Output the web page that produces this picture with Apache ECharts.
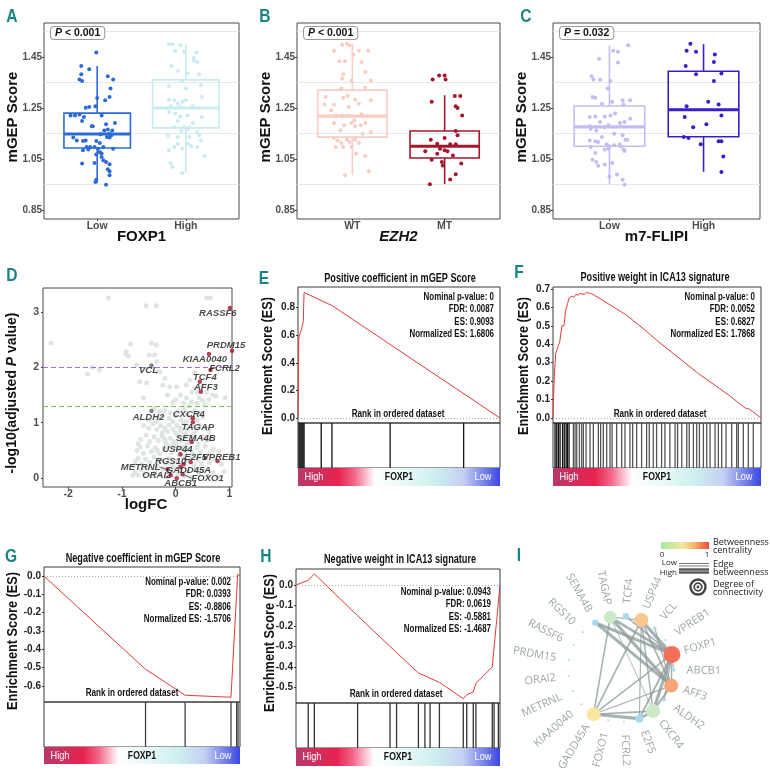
<!DOCTYPE html>
<html>
<head>
<meta charset="utf-8">
<script src="https://cdn.jsdelivr.net/npm/echarts@6/dist/echarts.min.js"></script>
<style>
  html, body { margin: 0; background: #fff; }
  #chart { width: 770px; height: 772px; }
</style>
</head>
<body>
<div id="chart"></div>
<script>
// ---------- A/B/C : mGEP score boxplots ----------
const mgepTicks = [0.85, 1.05, 1.25, 1.45];
const mgepGridLines = [0.95, 1.15, 1.35, 1.55];

const groupsA = ['Low', 'High'];
const groupsB = ['WT', 'MT'];
const groupsC = ['Low', 'High'];

// [min, Q1, median, Q3, max]
const boxStatsA = [[0.956, 1.093, 1.148, 1.23, 1.415], [0.995, 1.172, 1.25, 1.36, 1.50]];
const boxStatsB = [[0.987, 1.136, 1.218, 1.32, 1.50], [0.952, 1.054, 1.10, 1.16, 1.30]];
const boxStatsC = [[0.952, 1.10, 1.176, 1.258, 1.494], [1.0, 1.137, 1.243, 1.394, 1.50]];

// [jitter offset, score]
const jitterALow = [[-0.01,1.467],[-0.18,1.415],[-0.09,1.402],[-0.18,1.382],[-0.20,1.362],[-0.17,1.356],[0.12,1.374],[0.18,1.362],[0.15,1.326],[0.00,1.289],[0.09,1.280],[0.14,1.293],[-0.13,1.251],[-0.09,1.254],[-0.02,1.257],[-0.30,1.221],[-0.25,1.221],[-0.20,1.224],[-0.15,1.215],[-0.17,1.199],[0.05,1.221],[-0.06,1.178],[-0.05,1.178],[0.10,1.186],[0.12,1.166],[0.17,1.162],[0.20,1.191],[0.14,1.149],[0.08,1.162],[0.04,1.147],[-0.27,1.134],[-0.23,1.123],[-0.16,1.121],[-0.13,1.123],[-0.01,1.121],[0.03,1.113],[0.11,1.136],[0.14,1.134],[0.16,1.143],[-0.12,1.097],[-0.08,1.097],[-0.03,1.097],[0.01,1.090],[0.07,1.097],[0.18,1.090],[-0.16,1.084],[-0.10,1.087],[0.03,1.077],[0.05,1.072],[-0.01,1.068],[0.05,1.058],[0.07,1.045],[0.10,1.038],[0.14,1.030],[-0.17,1.032],[-0.03,1.034],[0.12,1.010],[0.14,1.002],[0.14,0.986],[-0.01,0.969],[-0.02,0.960],[0.10,0.949]];
const jitterAHigh = [[-0.19,1.50],[-0.15,1.50],[-0.06,1.496],[-0.02,1.47],[-0.12,1.474],[0.12,1.467],[0.09,1.447],[0.09,1.437],[0.13,1.43],[-0.16,1.415],[-0.09,1.395],[0.02,1.385],[0.15,1.382],[-0.04,1.358],[-0.19,1.335],[0.00,1.326],[0.17,1.339],[0.18,1.293],[-0.19,1.283],[-0.13,1.28],[-0.09,1.267],[-0.04,1.274],[0.00,1.28],[-0.17,1.257],[-0.06,1.254],[0.08,1.257],[-0.19,1.234],[-0.12,1.228],[-0.06,1.217],[0.02,1.221],[0.18,1.215],[-0.09,1.199],[0.08,1.191],[-0.13,1.175],[-0.02,1.175],[0.02,1.169],[-0.05,1.16],[0.04,1.175],[0.13,1.156],[-0.20,1.143],[-0.09,1.136],[0.04,1.136],[0.15,1.143],[0.17,1.123],[-0.09,1.11],[0.02,1.11],[0.06,1.10],[0.13,1.097],[-0.13,1.097],[-0.04,1.09],[-0.19,1.084],[0.21,1.062],[-0.17,1.034],[-0.15,1.019],[-0.04,0.995]];
const jitterBWT = [[-0.11,1.498],[-0.06,1.502],[-0.03,1.496],[-0.20,1.474],[0.07,1.474],[0.17,1.474],[0.01,1.46],[-0.08,1.433],[-0.14,1.433],[0.10,1.43],[0.14,1.391],[-0.10,1.382],[-0.11,1.365],[-0.01,1.358],[0.20,1.358],[-0.12,1.326],[0.14,1.33],[-0.29,1.293],[-0.10,1.29],[-0.05,1.297],[0.03,1.283],[0.07,1.267],[0.20,1.28],[-0.20,1.263],[-0.04,1.254],[-0.30,1.264],[-0.23,1.241],[-0.18,1.221],[-0.11,1.221],[-0.04,1.221],[0.10,1.225],[0.11,1.221],[0.02,1.202],[-0.20,1.191],[-0.01,1.191],[0.14,1.191],[-0.09,1.182],[0.03,1.178],[0.09,1.182],[-0.13,1.162],[0.20,1.156],[0.11,1.149],[-0.20,1.132],[-0.16,1.123],[-0.06,1.126],[-0.12,1.113],[-0.03,1.117],[0.03,1.126],[0.07,1.113],[-0.10,1.097],[-0.01,1.097],[-0.18,1.097],[0.04,1.071],[0.14,1.062],[0.18,1.002],[-0.08,0.986]];
const jitterBMT = [[-0.13,1.362],[-0.06,1.377],[0.00,1.377],[0.01,1.362],[0.11,1.297],[0.17,1.297],[-0.14,1.274],[0.12,1.257],[0.14,1.25],[0.19,1.221],[0.12,1.16],[0.14,1.143],[-0.15,1.126],[0.00,1.132],[-0.08,1.11],[0.06,1.108],[0.12,1.108],[-0.21,1.08],[-0.05,1.09],[0.00,1.084],[0.03,1.08],[-0.08,1.071],[-0.14,1.047],[-0.03,1.038],[-0.02,1.025],[0.09,1.064],[0.18,1.032],[0.12,0.99],[0.06,0.97],[-0.16,0.951]];
const jitterCLow = [[0.20,1.496],[0.04,1.474],[0.09,1.47],[-0.11,1.443],[0.09,1.428],[-0.19,1.374],[-0.17,1.362],[-0.10,1.361],[0.01,1.356],[-0.02,1.326],[-0.18,1.293],[-0.15,1.29],[0.14,1.28],[0.15,1.264],[0.22,1.28],[-0.08,1.267],[0.03,1.274],[-0.15,1.217],[-0.05,1.217],[0.01,1.221],[0.06,1.228],[-0.21,1.215],[0.22,1.208],[0.11,1.191],[0.16,1.195],[-0.10,1.195],[-0.05,1.175],[-0.01,1.182],[-0.21,1.178],[-0.20,1.169],[-0.14,1.162],[0.05,1.149],[0.14,1.143],[0.17,1.126],[0.19,1.126],[-0.21,1.123],[-0.15,1.12],[-0.12,1.117],[-0.08,1.136],[-0.03,1.108],[0.00,1.10],[0.05,1.104],[0.11,1.108],[0.12,1.10],[-0.20,1.097],[-0.05,1.087],[-0.01,1.09],[0.15,1.087],[0.16,1.081],[-0.15,1.074],[-0.18,1.047],[-0.14,1.038],[-0.12,1.024],[-0.05,1.029],[0.03,1.034],[0.08,0.989],[0.14,0.969],[0.16,0.949],[0.00,0.982]];
const jitterCHigh = [[-0.14,1.502],[-0.18,1.474],[-0.08,1.47],[0.12,1.46],[0.11,1.43],[-0.19,1.415],[-0.08,1.382],[0.19,1.385],[0.11,1.356],[-0.18,1.257],[0.05,1.274],[0.16,1.264],[0.19,1.221],[-0.20,1.215],[-0.11,1.175],[0.03,1.186],[-0.21,1.136],[-0.16,1.132],[-0.03,1.108],[0.16,1.12],[0.19,1.12],[0.21,1.06],[0.19,0.999]];

// ---------- D : volcano ----------
const volcanoTicksX = [-2, -1, 0, 1];
const volcanoTicksY = [0, 1, 2, 3];
const volcanoBackground = [[-1.25,3.25],[0.58,3.25],[0.65,3.25],[-0.55,3.11],[-0.36,3.11],[-2.32,2.44],[-0.45,2.44],[-0.36,2.40],[-0.84,2.42],[-0.92,2.28],[-0.93,2.24],[-0.88,2.20],[-0.49,2.22],[-0.39,2.22],[-1.64,1.88],[-1.55,2.0],[-0.73,2.04],[-0.35,2.1],[-0.35,1.92],[-0.29,1.92],[-0.67,1.74],[-0.54,1.72],[-0.24,1.68],[-0.11,1.65],[0.02,1.65],[0.2,1.68],[0.26,1.77],[0.3,1.55],[0.41,1.55],[0.09,1.5],[0.2,1.45],[0.58,1.55],[0.69,1.5],[0.92,1.45],[-0.15,1.5],[0.0,1.42],[0.5,1.4],[0.3,1.38],[0.4,1.35],[0.62,1.42],[0.75,1.48],[0.15,1.35],[-0.05,1.36],[-1.42,1.95],[-0.6,1.45],[-0.2,1.8],[0.35,1.9],[0.36,1.62],[0.52,1.66],[0.44,1.45],[0.55,1.32],[0.25,1.3],
  [-0.4,1.25],[-0.3,1.2],[-0.2,1.22],[-0.1,1.18],[0.05,1.2],[0.15,1.25],[0.22,1.15],[0.35,1.22],[0.45,1.18],[-0.25,1.1],[-0.12,1.08],[0.0,1.12],[0.1,1.05],[0.2,1.02],[0.4,1.05],[0.5,1.1],[-0.35,1.02],[-0.5,1.05],[-0.05,1.02],[0.28,1.1],
  [-0.6,0.95],[-0.5,0.9],[-0.42,0.98],[-0.35,0.88],[-0.28,0.95],[-0.2,0.9],[-0.12,0.96],[-0.05,0.88],[0.02,0.95],[0.08,0.9],[0.15,0.98],[0.22,0.88],[0.3,0.93],[0.38,0.86],[0.45,0.95],[0.55,0.9],[0.62,0.85],[-0.25,0.82],[0.0,0.82],[0.18,0.8],[-0.15,0.84],[0.1,0.84],[0.34,0.8],
  [-0.65,0.7],[-0.55,0.78],[-0.48,0.66],[-0.4,0.74],[-0.32,0.68],[-0.25,0.76],[-0.18,0.64],[-0.1,0.72],[-0.03,0.66],[0.04,0.76],[0.1,0.68],[0.16,0.72],[0.24,0.64],[0.3,0.76],[0.36,0.7],[0.42,0.62],[0.5,0.74],[0.58,0.68],[0.66,0.72],[-0.7,0.62],[-0.2,0.7],[0.2,0.6],[0.02,0.62],
  [-0.72,0.5],[-0.66,0.56],[-0.6,0.45],[-0.52,0.58],[-0.45,0.48],[-0.38,0.55],[-0.3,0.44],[-0.22,0.52],[-0.15,0.58],[-0.08,0.46],[0.0,0.54],[0.06,0.42],[0.12,0.56],[0.18,0.48],[0.25,0.52],[0.32,0.45],[0.4,0.55],[0.47,0.48],[0.55,0.58],[0.62,0.44],[0.7,0.52],[0.8,0.48],[-0.05,0.6],[-0.34,0.5],[0.08,0.5],
  [-0.75,0.3],[-0.7,0.36],[-0.64,0.25],[-0.56,0.34],[-0.48,0.28],[-0.4,0.38],[-0.33,0.22],[-0.26,0.32],[-0.19,0.26],[-0.12,0.36],[-0.05,0.24],[0.02,0.32],[0.08,0.22],[0.14,0.38],[0.2,0.3],[0.27,0.36],[0.34,0.24],[0.41,0.34],[0.48,0.26],[0.56,0.36],[0.63,0.28],[0.72,0.34],[0.85,0.25],[-0.78,0.22],[-0.3,0.3],[0.05,0.28],
  [-0.76,0.1],[-0.7,0.05],[-0.64,0.15],[-0.58,0.08],[-0.52,0.18],[-0.45,0.04],[-0.38,0.12],[-0.3,0.06],[-0.24,0.16],[-0.17,0.02],[-0.1,0.12],[-0.03,0.18],[0.04,0.08],[0.1,0.14],[0.17,0.04],[0.23,0.12],[0.3,0.02],[0.37,0.16],[0.44,0.08],[0.52,0.14],[0.6,0.04],[0.7,0.1],[0.8,0.02],[0.9,0.12],[-0.8,0.05]];
const volcanoGenes = ['RASSF6','PRDM15','KIAA0040','FCRL2','VCL','TCF4','AFF3','ALDH2','CXCR4','TAGAP','SEMA4B','USP44','E2F5','VPREB1','RGS10','GADD45A','METRNL','ORAI2','FOXO1','ABCB1'];
const volcanoLogFC = [1.01, 1.05, 0.62, 0.65, -0.45, 0.45, 0.47, -0.45, 0.32, 0.32, 0.30, 0.09, 0.28, 0.78, 0.15, 0.09, -0.15, -0.09, 0.13, 0.02];
const volcanoNegLogP = [3.07, 2.30, 2.24, 1.95, 2.03, 1.74, 1.56, 1.21, 1.08, 1.01, 0.65, 0.43, 0.29, 0.31, 0.25, 0.20, 0.16, 0.05, 0.07, 0.0];
const volcanoSignificant = [1,1,1,1,0,1,1,0,1,1,1,1,1,1,1,1,1,1,1,1];

// ---------- E-H : GSEA ----------
const esE = [[0,0],[0.004,0.58],[0.012,0.62],[0.02,0.66],[0.026,0.70],[0.03,0.91],[0.169,0.815],[1,0]];
const hitsE = [0.005,0.01,0.015,0.02,0.025,0.03,0.115,0.168,0.456,0.82];
const esF = [[0,0],[0.003,0.12],[0.006,0.22],[0.013,0.35],[0.025,0.39],[0.032,0.41],[0.043,0.5],[0.053,0.5],[0.06,0.58],[0.07,0.62],[0.077,0.65],[0.09,0.66],[0.1,0.655],[0.11,0.67],[0.12,0.665],[0.13,0.675],[0.15,0.67],[0.16,0.68],[0.18,0.675],[0.2,0.665],[0.25,0.63],[0.3,0.595],[0.35,0.56],[0.4,0.515],[0.45,0.47],[0.5,0.42],[0.55,0.375],[0.6,0.33],[0.65,0.285],[0.7,0.24],[0.75,0.2],[0.8,0.16],[0.85,0.12],[0.9,0.075],[0.93,0.05],[0.94,0.052],[0.96,0.035],[1,0]];
const hitsF = [0.01,0.018,0.026,0.034,0.046,0.054,0.063,0.069,0.077,0.098,0.106,0.114,0.127,0.138,0.146,0.159,0.178,0.194,0.218,0.229,0.242,0.258,0.274,0.284,0.306,0.33,0.346,0.37,0.383,0.402,0.426,0.45,0.463,0.482,0.498,0.522,0.538,0.562,0.587,0.599,0.619,0.643,0.655,0.675,0.691,0.704,0.723,0.739,0.755,0.779,0.795,0.811,0.832,0.859,0.883,0.891,0.915,0.939,0.963];
const esG = [[0,0],[0.518,-0.509],[0.72,-0.651],[0.954,-0.662],[0.988,0.01],[1,0]];
const hitsG = [0.518,0.72,0.954,0.983,0.99];
const esH = [[0,0],[0.06,0.023],[0.09,0.054],[0.302,-0.15],[0.461,-0.30],[0.493,-0.33],[0.59,-0.42],[0.6,-0.43],[0.632,-0.443],[0.657,-0.455],[0.703,-0.475],[0.82,-0.555],[0.837,-0.536],[0.869,-0.522],[0.882,-0.48],[0.962,-0.40],[1,0]];
const hitsH = [0.06,0.09,0.302,0.461,0.493,0.6,0.632,0.657,0.703,0.82,0.837,0.869,0.882,0.962,0.971,0.992];

// ---------- I : network ----------
const netGenes = ['FOXP1','ABCB1','AFF3','ALDH2','CXCR4','E2F5','FCRL2','FOXO1','GADD45A','KIAA0040','METRNL','ORAI2','PRDM15','RASSF6','RGS10','SEMA4B','TAGAP','TCF4','USP44','VCL','VPREB1'];
const netBetweenness = [1, null, 0.78, null, 0.08, null, null, null, 0.36, null, null, null, null, null, null, null, 0.08, null, 0.6, null, null];
const netDegree = [10, 1, 8, 1, 8, 4, 0, 0, 8, 0, 0, 0, 0, 0, 0, 3, 7, 3, 8, 1, 0];
const netEdges = [
  ['SEMA4B','FOXP1',0.9],['SEMA4B','AFF3',0.9],['TAGAP','FOXP1',0.7],['TAGAP','AFF3',0.9],['TAGAP','GADD45A',0.35],
  ['TAGAP','CXCR4',0.1],['TAGAP','USP44',0.2],['TCF4','FOXP1',0.35],['USP44','FOXP1',0.9],['USP44','AFF3',0.4],
  ['USP44','CXCR4',0.3],['USP44','GADD45A',0.4],['USP44','E2F5',0.2],['GADD45A','FOXP1',0.35],['GADD45A','E2F5',0.9],
  ['GADD45A','CXCR4',0.4],['GADD45A','AFF3',0.2],['FOXP1','CXCR4',0.9],['FOXP1','E2F5',0.5],['FOXP1','AFF3',0.35],
  ['AFF3','CXCR4',0.5],['E2F5','CXCR4',0.7],['VCL','AFF3',0.2],['ALDH2','FOXP1',0.2],['ABCB1','FOXP1',0.1]
];

// ---------- build ----------
const SANS = "'Liberation Sans', Arial, sans-serif";
const TEAL = '#1b8383';
const grid = [], xAxis = [], yAxis = [], series = [], graphic = [];
const noLine = { show: false, onZero: false };

// sx squeezes the text horizontally to mimic the condensed face of the original
function txt(x, y, text, s, rotation) {
  s = Object.assign({}, s || {});
  const a = s.a || 'center';
  const sx = s.sx || 1;
  delete s.a; delete s.sx;
  const st = Object.assign({ text, fill: '#111', fontFamily: SANS, fontSize: 11, fontWeight: 'bold',
    align: a, textAlign: a, verticalAlign: 'middle', textVerticalAlign: 'middle' }, s);
  graphic.push({ type: 'text', x, y, rotation: rotation || 0, scaleX: sx, silent: true, z: 100, style: st });
}

function renderBox(colors) {
  return function (params, api) {
    const x = api.value(0);
    const lo = api.coord([x, api.value(1)]), q1 = api.coord([x, api.value(2)]);
    const med = api.coord([x, api.value(3)]), q3 = api.coord([x, api.value(4)]);
    const hi = api.coord([x, api.value(5)]);
    const half = api.size([0.75, 0])[0] / 2;
    const c = colors[params.dataIndex];
    return { type: 'group', children: [
      { type: 'line', shape: { x1: lo[0], y1: lo[1], x2: q1[0], y2: q1[1] }, style: { stroke: c, lineWidth: 1.6 } },
      { type: 'line', shape: { x1: q3[0], y1: q3[1], x2: hi[0], y2: hi[1] }, style: { stroke: c, lineWidth: 1.6 } },
      { type: 'rect', shape: { x: q1[0] - half, y: q3[1], width: half * 2, height: q1[1] - q3[1] }, style: { fill: 'none', stroke: c, lineWidth: 1.6 } },
      { type: 'line', shape: { x1: med[0] - half, y1: med[1], x2: med[0] + half, y2: med[1] }, style: { stroke: c, lineWidth: 3.2 } }
    ] };
  };
}

const tickFont = { fontFamily: SANS, fontWeight: 'bold', fontSize: 10, color: '#4d4d4d' };

function boxPanel(cfg) {
  const gi = grid.length;
  grid.push({ left: cfg.left, top: 23, width: cfg.width, height: 196, show: true, borderColor: '#4a4a4a', borderWidth: 1 });
  xAxis.push({ gridIndex: gi, type: 'value', min: 0.4, max: 2.6, axisLine: noLine, splitLine: { show: false },
    axisTick: { show: true, customValues: [1, 2], length: 2, lineStyle: { color: '#444' } },
    axisLabel: Object.assign({ customValues: [1, 2], formatter: v => cfg.groups[Math.round(v) - 1], margin: 2 }, tickFont, { fontSize: 10.5 }) });
  yAxis.push({ gridIndex: gi, type: 'value', min: 0.815, max: 1.583, axisLine: noLine, splitLine: { show: false },
    axisTick: { show: true, customValues: mgepTicks, length: 2, lineStyle: { color: '#444' } },
    axisLabel: Object.assign({ customValues: mgepTicks, formatter: v => v.toFixed(2), margin: 2 }, tickFont) });
  series.push({ type: 'custom', xAxisIndex: gi, yAxisIndex: gi, silent: true, z: 3,
    data: cfg.stats.map((s, i) => [i + 1].concat(s)), renderItem: renderBox(cfg.colors) });
  cfg.points.forEach((pts, i) => {
    const s = { type: 'scatter', xAxisIndex: gi, yAxisIndex: gi, silent: true, z: 4,
      data: pts.map(p => [i + 1 + p[0], p[1]]), symbolSize: 4, itemStyle: { color: cfg.colors[i], opacity: 1 } };
    if (i === 0) {
      s.markLine = { silent: true, z: 1, symbol: 'none', label: { show: false },
        lineStyle: { color: '#e3e8e8', width: 1, type: 'solid' }, data: mgepGridLines.map(v => ({ yAxis: v })) };
    }
    series.push(s);
  });
  const cx = cfg.left + cfg.width / 2;
  txt(cfg.left - 31, 117, 'mGEP Score', { fontSize: 15 }, Math.PI / 2);
  txt(cx, 237, cfg.xName, { fontSize: 15, fontStyle: cfg.italic ? 'italic' : 'normal' });
  txt(cfg.left + 7, 33, cfg.pText, { a: 'left', fontSize: 10.5, backgroundColor: '#fff', borderColor: '#9a9a9a', borderWidth: 1, borderRadius: 3, padding: [1, 4, 0, 4],
    rich: { i: { fontStyle: 'italic', fontWeight: 'bold', fontSize: 10.5, fontFamily: SANS } } });
}

boxPanel({ left: 44, width: 195, groups: groupsA, stats: boxStatsA, points: [jitterALow, jitterAHigh], colors: ['#2d6bd4', '#c9ecf1'], xName: 'FOXP1', pText: '{i|P} < 0.001' });
boxPanel({ left: 297, width: 203, groups: groupsB, stats: boxStatsB, points: [jitterBWT, jitterBMT], colors: ['#f8cdc4', '#a3172c'], xName: 'EZH2', italic: true, pText: '{i|P} < 0.001' });
boxPanel({ left: 553, width: 207, groups: groupsC, stats: boxStatsC, points: [jitterCLow, jitterCHigh], colors: ['#c3bdf2', '#3b1ec9'], xName: 'm7-FLIPI', pText: '{i|P} = 0.032' });

// D volcano
(function () {
  const gi = grid.length;
  grid.push({ left: 43, top: 288, width: 189, height: 199, show: true, borderColor: '#4a4a4a', borderWidth: 1 });
  xAxis.push({ gridIndex: gi, type: 'value', min: -2.47, max: 1.05, axisLine: noLine, splitLine: { show: false },
    axisTick: { show: true, customValues: volcanoTicksX, length: 2, lineStyle: { color: '#444' } },
    axisLabel: Object.assign({ customValues: volcanoTicksX, formatter: v => String(v), margin: 2 }, tickFont, { fontSize: 10.5 }) });
  yAxis.push({ gridIndex: gi, type: 'value', min: -0.16, max: 3.43, axisLine: noLine, splitLine: { show: false },
    axisTick: { show: true, customValues: volcanoTicksY, length: 2, lineStyle: { color: '#444' } },
    axisLabel: Object.assign({ customValues: volcanoTicksY, formatter: v => String(v), margin: 4 }, tickFont, { fontSize: 10.5 }) });
  series.push({ type: 'scatter', xAxisIndex: gi, yAxisIndex: gi, silent: true, z: 2, data: volcanoBackground, symbolSize: 5,
    itemStyle: { color: '#dbe1e1', opacity: 0.9 },
    markLine: { silent: true, symbol: 'none', label: { show: false }, data: [
      { yAxis: 2, lineStyle: { color: '#9f72d2', type: [5, 3], width: 1.2 } },
      { yAxis: 1.3, lineStyle: { color: '#7ec64a', type: [5, 3], width: 1.2 } }] } });
  // label shift from its point, in px; METRNL and FOXO1 get a guide line
  const shift = { RASSF6: [-12, 5], PRDM15: [-6, -5], KIAA0040: [-4, 5], FCRL2: [14, -2], VCL: [-3, 5], TCF4: [5, -4], AFF3: [5, -4],
    ALDH2: [-3, 6], CXCR4: [-4, -4], TAGAP: [5, 5], SEMA4B: [4, -4], USP44: [-3, -5], E2F5: [5, -5], VPREB1: [4, -4],
    RGS10: [-13, -3], GADD45A: [8, 3], ORAI2: [-14, 0], ABCB1: [4, 5], METRNL: [-27, -2], FOXO1: [25, 4] };
  const guided = { METRNL: true, FOXO1: true };
  series.push({ type: 'scatter', xAxisIndex: gi, yAxisIndex: gi, silent: true, z: 5, symbolSize: 4.5,
    data: volcanoGenes.map((g, i) => ({
      name: g, value: [volcanoLogFC[i], volcanoNegLogP[i]],
      itemStyle: { color: volcanoSignificant[i] ? '#a3132c' : '#666' },
      labelLine: { show: !!guided[g] }
    })),
    label: { show: true, position: 'inside', formatter: p => p.name, fontFamily: SANS, fontWeight: 'bold', fontStyle: 'italic', fontSize: 9.5, color: '#1a1a1a' },
    labelLine: { show: false, lineStyle: { color: '#333', width: 0.8 } },
    labelLayout: p => { const d = shift[volcanoGenes[p.dataIndex]]; return { dx: d[0], dy: d[1] }; }
  });
  txt(12, 393, '-log10(adjusted {i|P} value)', { fontSize: 14, rich: { i: { fontStyle: 'italic', fontWeight: 'bold', fontSize: 14, fontFamily: SANS, fill: '#111' } } }, Math.PI / 2);
  txt(146, 505, 'logFC', { fontSize: 15 });
})();

// GSEA panels
const gseaStops = [
  { offset: 0, color: '#b8396a' }, { offset: 0.2, color: '#e8224e' }, { offset: 0.28, color: '#f4678a' },
  { offset: 0.38, color: '#ffffff' }, { offset: 0.55, color: '#e4f7f6' }, { offset: 0.68, color: '#cdf0ee' },
  { offset: 0.82, color: '#c3cff3' }, { offset: 1, color: '#3b46e4' }];

function gseaPanel(cfg) {
  const gi = grid.length;
  const L = cfg.left, R = cfg.right, T = cfg.top, M = cfg.mid, B = cfg.hitBottom;
  grid.push({ left: L, top: T, width: R - L, height: M - T, show: true, borderColor: '#3a3a3a', borderWidth: 1 });
  grid.push({ left: L, top: M, width: R - L, height: B - M, show: true, borderColor: '#3a3a3a', borderWidth: 1 });
  xAxis.push({ gridIndex: gi, type: 'value', min: 0, max: 1, show: false });
  xAxis.push({ gridIndex: gi + 1, type: 'value', min: 0, max: 1, show: false });
  yAxis.push({ gridIndex: gi, type: 'value', min: cfg.yMin, max: cfg.yMax, axisLine: noLine, splitLine: { show: false },
    axisTick: { show: true, customValues: cfg.ticks, length: 2, lineStyle: { color: '#333' } },
    axisLabel: { customValues: cfg.ticks, formatter: v => v.toFixed(1), fontFamily: SANS, fontWeight: 'bold', fontSize: 10, color: '#222', margin: 3 } });
  yAxis.push({ gridIndex: gi + 1, type: 'value', min: 0, max: 1, show: false });
  series.push({ type: 'line', xAxisIndex: gi, yAxisIndex: gi, data: cfg.es, symbol: 'none', silent: true, z: 3,
    lineStyle: { color: '#e23b3b', width: 1 },
    markLine: { silent: true, z: 1, symbol: 'none', label: { show: false }, lineStyle: { color: '#aaa', type: [1, 2], width: 1 }, data: [{ yAxis: 0 }] } });
  series.push({ type: 'custom', xAxisIndex: gi + 1, yAxisIndex: gi + 1, silent: true, data: cfg.hits.map(h => [h, 0]),
    renderItem: (p, api) => {
      const a = api.coord([api.value(0), 0]), b = api.coord([api.value(0), 1]);
      const dark = api.value(0) < cfg.darkUntil;
      return { type: 'line', shape: { x1: a[0], y1: a[1], x2: b[0], y2: b[1] }, style: { stroke: dark ? '#111' : cfg.hitColor, lineWidth: 1.3 } };
    } });
  graphic.push({ type: 'rect', silent: true, z: 90, shape: { x: L, y: B, width: R - L, height: cfg.barH },
    style: { fill: new echarts.graphic.LinearGradient(0, 0, 1, 0, gseaStops) } });
  const ty = B + cfg.barH / 2;
  txt(L + 16, ty, 'High', { fontWeight: 'normal', fontSize: 11.5, fill: '#fff', sx: 0.8 });
  txt((L + R) / 2, ty, 'FOXP1', { fontSize: 11.5, sx: 0.75 });
  txt(R - 17, ty, 'Low', { fontWeight: 'normal', fontSize: 11.5, fill: '#fff', sx: 0.8 });
  txt(cfg.titleX, cfg.titleY, cfg.title, { fontSize: 12, sx: 0.76 });
  cfg.stats.forEach((s, i) => txt(cfg.statsX, cfg.statsY + i * 12.4, s, { a: 'right', fontSize: 11, sx: 0.72 }));
  txt(cfg.rankX, M - 9, 'Rank in ordered dataset', { fontSize: 11, sx: 0.74 });
  txt(cfg.nameX, cfg.nameY, 'Enrichment Score (ES)', { fontSize: 15, sx: 0.85 }, Math.PI / 2);
}

gseaPanel({ left: 298, right: 500, top: 287, mid: 423, hitBottom: 468, barH: 18, yMin: -0.036, yMax: 0.95, ticks: [0, 0.2, 0.4, 0.6, 0.8],
  es: esE, hits: hitsE, darkUntil: 1, hitColor: '#222', title: 'Positive coefficient in mGEP Score', titleX: 400, titleY: 279,
  stats: ['Nominal p-value: 0', 'FDR: 0.0087', 'ES: 0.9093', 'Normalized ES: 1.6806'], statsX: 494, statsY: 297, rankX: 398, nameX: 268, nameY: 366 });
gseaPanel({ left: 553, right: 761, top: 287, mid: 423, hitBottom: 468, barH: 18, yMin: -0.027, yMax: 0.71, ticks: [0, 0.1, 0.2, 0.3, 0.4, 0.5, 0.6, 0.7],
  es: esF, hits: hitsF, darkUntil: 0.085, hitColor: '#555', title: 'Positive weight in ICA13 signature', titleX: 655, titleY: 278,
  stats: ['Nominal p-value: 0', 'FDR: 0.0052', 'ES: 0.6827', 'Normalized ES: 1.7868'], statsX: 755, statsY: 297, rankX: 660, nameX: 524, nameY: 366 });
gseaPanel({ left: 44, right: 240, top: 567, mid: 702, hitBottom: 747, barH: 17, yMin: -0.688, yMax: 0.05, ticks: [0, -0.1, -0.2, -0.3, -0.4, -0.5, -0.6],
  es: esG, hits: hitsG, darkUntil: 0, hitColor: '#444', title: 'Negative coefficient in mGEP Score', titleX: 143, titleY: 559,
  stats: ['Nominal p-value: 0.002', 'FDR: 0.0393', 'ES: -0.8806', 'Normalized ES: -1.5706'], statsX: 231, statsY: 582, rankX: 132, nameX: 13, nameY: 641 });
gseaPanel({ left: 296, right: 500, top: 569, mid: 703, hitBottom: 748, barH: 18, yMin: -0.576, yMax: 0.078, ticks: [0, -0.1, -0.2, -0.3, -0.4, -0.5],
  es: esH, hits: hitsH, darkUntil: 0, hitColor: '#333', title: 'Negative weight in ICA13 signature', titleX: 400, titleY: 560,
  stats: ['Nominal p-value: 0.0943', 'FDR: 0.0619', 'ES: -0.5881', 'Normalized ES: -1.4687'], statsX: 491, statsY: 592, rankX: 396, nameX: 270, nameY: 643 });

// I network on a polar system
const nodeRamp = ['#bde9d2', '#fbe9a3', '#f9bf8b', '#f4705b'];
series.push({
  type: 'graph', coordinateSystem: 'polar', polarIndex: 0, silent: true, z: 3,
  data: netGenes.map((g, k) => ({
    name: g, value: [1, k], symbolSize: 2 + 1.5 * netDegree[k],
    itemStyle: { color: netBetweenness[k] == null ? '#a9d9ee' : echarts.color.lerp(netBetweenness[k], nodeRamp) }
  })),
  links: netEdges.map(e => ({ source: e[0], target: e[1], lineStyle: { width: 0.6 + 2.8 * e[2] } })),
  lineStyle: { color: '#8a9a98', opacity: 0.75, curveness: 0 },
  label: { show: false }
});
const startAngle = 16;
series.push({
  type: 'scatter', coordinateSystem: 'polar', polarIndex: 0, silent: true, z: 4, symbolSize: 1,
  itemStyle: { color: 'rgba(0,0,0,0)' },
  data: netGenes.map((g, k) => {
    const theta = -startAngle + k * 360 / 21;
    const right = Math.cos(theta * Math.PI / 180) >= 0;
    return { value: [1.24, k], name: g,
      label: { align: right ? 'left' : 'right', rotate: right ? -theta : 180 - theta } };
  }),
  label: { show: true, position: 'inside', verticalAlign: 'middle', formatter: p => p.name,
    fontFamily: "'Open Sans', 'Noto Sans', sans-serif", fontSize: 11, color: '#85908f' }
});

// network legend
graphic.push({ type: 'rect', silent: true, shape: { x: 661, y: 542, width: 48, height: 7 },
  style: { fill: new echarts.graphic.LinearGradient(0, 0, 1, 0, [
    { offset: 0, color: '#a6e6a4' }, { offset: 0.45, color: '#f4e6a0' }, { offset: 0.7, color: '#f6b46a' }, { offset: 1, color: '#f24a3a' }]) } });
const legFont = { fontFamily: "'Open Sans', 'Noto Sans', sans-serif", fontWeight: 'normal', fontSize: 9, fill: '#222' };
txt(662, 555, '0', Object.assign({}, legFont, { fontSize: 8 }));
txt(707, 555, '1', Object.assign({}, legFont, { fontSize: 8 }));
txt(713, 542, 'Betweenness', Object.assign({ a: 'left' }, legFont));
txt(713, 550, 'centrality', Object.assign({ a: 'left' }, legFont));
txt(677, 563, 'Low', Object.assign({ a: 'right' }, legFont, { fontSize: 8 }));
txt(677, 573, 'High', Object.assign({ a: 'right' }, legFont, { fontSize: 8 }));
[[563.5, 0.8], [566, 0.8], [569.5, 2.4], [572.5, 2.4]].forEach(l => graphic.push({ type: 'line', silent: true,
  shape: { x1: 679, y1: l[0], x2: 709, y2: l[0] }, style: { stroke: '#555', lineWidth: l[1] } }));
txt(713, 564, 'Edge', Object.assign({ a: 'left' }, legFont));
txt(713, 572, 'betweenness', Object.assign({ a: 'left' }, legFont));
graphic.push({ type: 'circle', silent: true, shape: { cx: 698, cy: 587, r: 7.5 }, style: { fill: 'none', stroke: '#444', lineWidth: 2.4 } });
graphic.push({ type: 'circle', silent: true, shape: { cx: 698, cy: 587, r: 3.8 }, style: { fill: 'none', stroke: '#444', lineWidth: 1.8 } });
graphic.push({ type: 'circle', silent: true, shape: { cx: 698, cy: 587, r: 1.4 }, style: { fill: '#444' } });
txt(713, 584, 'Degree of', Object.assign({ a: 'left' }, legFont));
txt(713, 592, 'connectivity', Object.assign({ a: 'left' }, legFont));

// panel letters
[['A', 12, 17], ['B', 265, 17], ['C', 526, 17], ['D', 12, 276], ['E', 264, 279], ['F', 519, 273], ['G', 11, 557], ['H', 266, 557], ['I', 519, 556]]
  .forEach(l => txt(l[1], l[2], l[0], { fontSize: 19, fill: TEAL, sx: 0.82 }));

const chart = echarts.init(document.getElementById('chart'));
chart.setOption({
  animation: false,
  backgroundColor: '#fff',
  grid, xAxis, yAxis,
  polar: [{ center: [621, 669], radius: 72 }],
  radiusAxis: [{ polarIndex: 0, type: 'value', min: 0, max: 1.36, show: false }],
  angleAxis: [{ polarIndex: 0, type: 'value', min: 0, max: 21, startAngle: startAngle, clockwise: true, show: false }],
  series, graphic
});
</script>
</body>
</html>
